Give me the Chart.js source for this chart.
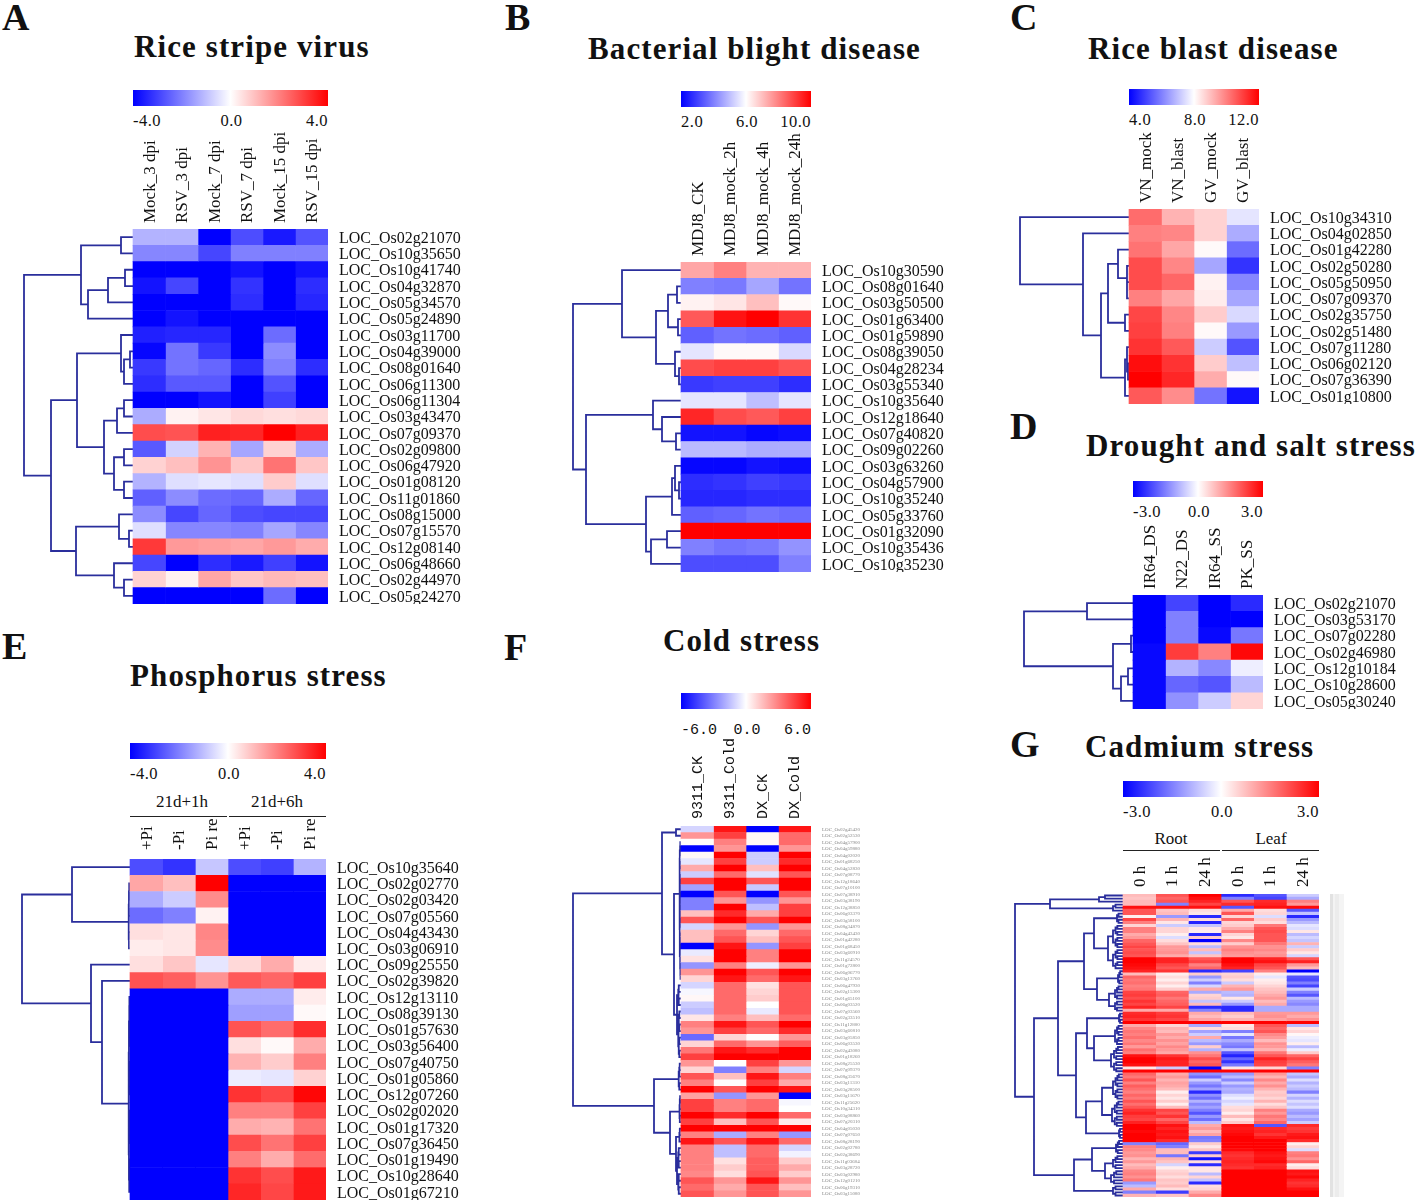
<!DOCTYPE html>
<html lang="en">
<head>
    <meta charset="UTF-8">
    <title>Rice stress heatmaps</title>
    <script src="https://cdn.jsdelivr.net/npm/chart.js"></script>
    <style>
        html, body { margin: 0; background: #fff; }
        #page { position: relative; width: 1418px; height: 1204px; overflow: hidden; font-family: "Liberation Serif", serif; color: #111; }
        #page canvas, #page div { position: absolute; }
        .title { font-weight: bold; font-size: 31px; letter-spacing: 1.1px; white-space: nowrap; line-height: 34px; }
        .letter { font-weight: bold; font-size: 38px; line-height: 40px; }
        .tick { font-size: 16.5px; letter-spacing: 0.5px; line-height: 18px; white-space: nowrap; }
        .group { font-size: 17px; line-height: 20px; white-space: nowrap; transform: translateX(-50%); }
    </style>
</head>
<body>
<div id="page"></div>
<script>
// panel A - rice stripe virus
const aCols = ['Mock_3 dpi', 'RSV_3 dpi', 'Mock_7 dpi', 'RSV_7 dpi', 'Mock_15 dpi', 'RSV_15 dpi'];
const aGenes = ['Os02g21070', 'Os10g35650', 'Os10g41740', 'Os04g32870', 'Os05g34570', 'Os05g24890', 'Os03g11700', 'Os04g39000', 'Os08g01640', 'Os06g11300', 'Os06g11304', 'Os03g43470', 'Os07g09370', 'Os02g09800', 'Os06g47920', 'Os01g08120', 'Os11g01860', 'Os08g15000', 'Os07g15570', 'Os12g08140', 'Os06g48660', 'Os02g44970', 'Os05g24270'];
const aValues = [
    [-1.2, -1.2, -4, -2.8, -3.6, -2.7],
    [-1.9, -1.9, -2.9, -2, -2, -2],
    [-4, -4, -4, -3.7, -4, -3.7],
    [-3.7, -2.9, -4, -3.2, -4, -3.3],
    [-4, -4, -4, -3.3, -4, -3.4],
    [-4, -3.7, -4, -4, -4, -4],
    [-3.5, -3.4, -3.4, -4, -2.3, -4],
    [-3.9, -2.2, -3.1, -4, -1.8, -4],
    [-3.1, -2.2, -2.4, -3.3, -2, -3.3],
    [-3.3, -2.6, -2.6, -4, -2.7, -4],
    [-4, -4, -3.7, -4, -3, -4],
    [-1.3, 0.2, 0.4, 0.6, 0.5, 0.6],
    [2.8, 2.7, 3.5, 3.4, 4, 3.5],
    [-2.6, -0.7, 1.2, -1.4, 0.7, -1.3],
    [0.7, 1, 1.7, 0.9, 2.2, 0.9],
    [-1.2, -0.5, -0.4, -0.5, 0.8, -0.5],
    [-2.5, -1.8, -2.3, -2.4, -1.3, -2.4],
    [-1.8, -2.9, -2.4, -2.8, -2.9, -2.9],
    [-0.5, -1.9, -1.9, -2, -1.4, -1.9],
    [3.1, 1.6, 1.5, 1.4, 1.6, 1.3],
    [-2.9, -4, -3.3, -3.6, -3, -3.7],
    [0.7, 0.2, 1.4, 0.9, 1.1, 1],
    [-4, -4, -4, -4, -2.3, -4]
];
const aTree = [109,
    [52, [12, 0, 1], [45, [25, [8, 2, 3], 4], 5]],
    [82,
        [56,
            [12, 6, [9, [3, 7, 8], 9]],
            [29, [16, [9, 10, 11], 12], [19, [9, 13, 14], [9, 15, 16]]]],
        [57,
            [14, 17, [4, 18, 19]],
            [19, 20, [9, 21, 22]]]]];

// panel B - bacterial blight
const bCols = ['MDJ8_CK', 'MDJ8_mock_2h', 'MDJ8_mock_4h', 'MDJ8_mock_24h'];
const bGenes = ['Os10g30590', 'Os08g01640', 'Os03g50500', 'Os01g63400', 'Os01g59890', 'Os08g39050', 'Os04g28234', 'Os03g55340', 'Os10g35640', 'Os12g18640', 'Os07g40820', 'Os09g02260', 'Os03g63260', 'Os04g57900', 'Os10g35240', 'Os05g33760', 'Os01g32090', 'Os10g35436', 'Os10g35230'];
const bValues = [
    [7.4, 8, 7.2, 7.2],
    [4, 3.9, 4.6, 3.8],
    [6.2, 6.4, 7, 6.1],
    [8.6, 9.7, 10, 9.2],
    [3.5, 3.8, 3.7, 3.5],
    [5.6, 6.1, 6.1, 5.4],
    [8.8, 9, 9, 8.7],
    [2.9, 3, 3, 2.7],
    [5.6, 5.6, 5, 5.6],
    [9.4, 8.8, 8.6, 9],
    [2.3, 2.3, 2.1, 2.2],
    [4.9, 4.9, 4.7, 4.7],
    [2.1, 2.1, 2.3, 2.2],
    [2.7, 2.8, 3, 2.9],
    [2.6, 2.6, 2.7, 2.7],
    [3.5, 3.6, 3.8, 3.7],
    [10, 10, 10, 10],
    [4, 3.8, 3.9, 4.3],
    [3.2, 3.2, 3.2, 4]
];
const bTree = [108,
    [59, 0, [25, [13, [4, 1, 2], [3, 3, 4]], [6, 5, [2, 6, 7]]]],
    [95,
        [28, 8, [19, 9, [5, 10, 11]]],
        [35, [9, [6, 12, [2, 13, 14]], 15], [30, [14, 16, 17], 18]]]];

// panel C - rice blast
const cCols = ['VN_mock', 'VN_blast', 'GV_mock', 'GV_blast'];
const cGenes = ['Os10g34310', 'Os04g02850', 'Os01g42280', 'Os02g50280', 'Os05g50950', 'Os07g09370', 'Os02g35750', 'Os02g51480', 'Os07g11280', 'Os06g02120', 'Os07g36390', 'Os01g10800'];
const cValues = [
    [10.3, 9.2, 8.7, 7.6],
    [10, 9.9, 8.7, 6.7],
    [10.2, 9.4, 8.1, 5.7],
    [10.8, 9.9, 6.6, 4.8],
    [10.8, 10.4, 8.2, 6.1],
    [10, 9.4, 8.3, 6.6],
    [10.9, 9.9, 8.8, 7.4],
    [11, 10, 8.1, 6.4],
    [11.2, 10.6, 7.2, 5.3],
    [11.8, 11.2, 8.8, 7],
    [12, 11.4, 9.3, 8.1],
    [10.6, 9.8, 5.8, 4.3]
];
const cTree = [109, 0,
    [46, 1,
        [28,
            [21, [11, 2, [2, 3, [2, 4, 5]]], [4, 6, 7]],
            [4, [2, 8, [1, 9, 10]], 11]]]];

// panel D - drought and salt
const dCols = ['IR64_DS', 'N22_DS', 'IR64_SS', 'PK_SS'];
const dGenes = ['Os02g21070', 'Os03g53170', 'Os07g02280', 'Os02g46980', 'Os12g10184', 'Os10g28600', 'Os05g30240'];
const dValues = [
    [-3, -2.2, -3, -2.5],
    [-3, -1.5, -3, -3],
    [-3, -1.5, -2.9, -1.6],
    [-2.9, 2.3, 1.5, 2.9],
    [-2.9, -0.9, -1.4, -0.2],
    [-2.9, -1.8, -2, -0.8],
    [-2.9, -1.3, -0.6, 0.5]
];
const dTree = [109, [46, 0, 1], [20, [2, 2, 3], [12, [5, 4, 5], 6]]];

// panel E - phosphorus
const eCols = ['+Pi', '-Pi', 'Pi re', '+Pi', '-Pi', 'Pi re'];
const eGenes = ['Os10g35640', 'Os02g02770', 'Os02g03420', 'Os07g05560', 'Os04g43430', 'Os03g06910', 'Os09g25550', 'Os02g39820', 'Os12g13110', 'Os08g39130', 'Os01g57630', 'Os03g56400', 'Os07g40750', 'Os01g05860', 'Os12g07260', 'Os02g02020', 'Os01g17320', 'Os07g36450', 'Os01g19490', 'Os10g28640', 'Os01g67210'];
const eValues = [
    [-2.8, -3.2, -0.9, -2.8, -3, -1.2],
    [1.4, 1, 4, -4, -4, -4],
    [-1.3, -0.8, 1.8, -4, -4, -4],
    [-2.3, -2, 0.2, -4, -4, -4],
    [0.5, 0.4, 1.9, -4, -4, -4],
    [0.3, 0.4, 1.8, -4, -4, -4],
    [0.5, 0.9, -0.4, 0.6, 1.3, 0.3],
    [2.7, 2.5, 1.7, 2.6, 2.4, 3],
    [-4, -4, -4, -1.3, -1.3, 0.3],
    [-4, -4, -4, -1.5, -1.5, 0.1],
    [-4, -4, -4, 2.7, 2.3, 3.3],
    [-4, -4, -4, 0.5, 0.1, 1.3],
    [-4, -4, -4, 1.2, 0.8, 2],
    [-4, -4, -4, -0.3, -0.4, 0.7],
    [-4, -4, -4, 3.2, 2.9, 3.9],
    [-4, -4, -4, 2, 2, 3],
    [-4, -4, -4, 1.3, 1.2, 2.2],
    [-4, -4, -4, 2.8, 2.2, 3],
    [-4, -4, -4, 2, 1.3, 2.3],
    [-4, -4, -4, 3.2, 2.8, 3.6],
    [-4, -4, -4, 3.4, 2.9, 3.6]
];
const eTree = [108,
    [58, 0, comb(1.4, 1, 5)],
    [39, 6, [28, 7, comb(1.4, 8, 20)]]];

// panel F - cold
const fCols = ['9311_CK', '9311_Cold', 'DX_CK', 'DX_Cold'];
const fGenes = ['Os02g45420', 'Os02g52530', 'Os04g57900', 'Os04g59880', 'Os04g02020', 'Os01g68250', 'Os04g52830', 'Os07g08770', 'Os12g18640', 'Os07g10100', 'Os07g38910', 'Os03g38190', 'Os12g38850', 'Os06g03370', 'Os03g58100', 'Os08g34870', 'Os04g43430', 'Os01g42280', 'Os01g68450', 'Os03g60910', 'Os11g24570', 'Os01g72800', 'Os06g06770', 'Os03g13760', 'Os06g47930', 'Os02g15300', 'Os01g65100', 'Os06g03520', 'Os07g03560', 'Os02g33510', 'Os11g12800', 'Os03g60810', 'Os03g05850', 'Os06g03530', 'Os02g43080', 'Os01g18260', 'Os08g25530', 'Os07g09370', 'Os08g35670', 'Os03g11310', 'Os03g28500', 'Os03g11670', 'Os11g25620', 'Os10g34310', 'Os03g08860', 'Os07g20310', 'Os04g05030', 'Os07g07650', 'Os08g28190', 'Os02g02780', 'Os02g38690', 'Os11g03604', 'Os03g28720', 'Os03g02980', 'Os12g01210', 'Os06g19310', 'Os03g15080'];
const fValues = [
    [-1, 5.5, -6, 5.5],
    [2.5, 4.5, 0.2, 3.5],
    [0.1, 3, 0.2, 3.5],
    [-6, 2.5, -6, 2.5],
    [0.2, 6, -1.2, 6],
    [-0.6, 4.5, -1.2, 5],
    [2, 6, 1.5, 6],
    [-1.2, 3.5, -0.7, 4],
    [4.5, 6, 4, 6],
    [-2.2, 6, -1.3, 6],
    [-6, 4, -6, 4],
    [-3, 2.5, -2.5, 2.5],
    [-3, 6, -1.5, 4.5],
    [1.5, 5, 2, 4.5],
    [4, 6, 4, 6],
    [-1, 2.5, -2.5, 2.5],
    [1.5, 3.5, 1, 3.5],
    [1.5, 4, 1.5, 4],
    [-6, 5.5, -2.5, 4.5],
    [-0.5, 6, 3, 6],
    [0.7, 6, 3, 6],
    [-2.5, 3, -0.4, 2.5],
    [2.5, 6, 4, 6],
    [1, 5.5, 3.5, 5.5],
    [-1, 3.5, 0.7, 4],
    [-0.2, 3.5, 1, 4],
    [0.2, 3.5, 1.2, 4],
    [-1.2, 3.5, 0, 4],
    [-1.5, 3.5, -0.5, 4],
    [0.6, 3, 1.5, 3.5],
    [3, 5.5, 4, 6],
    [2.5, 4.5, 3.5, 5],
    [-3.5, 1, 0, 2.5],
    [1, 3.5, 2.5, 3.8],
    [3.2, 5.5, 5, 6],
    [4.5, 6, 6, 6],
    [2.5, 0, 4.5, 2.5],
    [1, -3, 3, -1],
    [4, 1.5, 5.5, 3],
    [3, 0.1, 4.5, 2],
    [6, 4, 6, 5.5],
    [2.2, -2.5, 2.5, -6],
    [4.5, 3, 3.5, -0.2],
    [4.5, 3, 3.5, 0],
    [6, 5, 6, 3.5],
    [4.5, 1.5, 4, 0.5],
    [6, 6, 6, 6],
    [3, -2, 3, -2.5],
    [5.5, 4, 5.5, 3.5],
    [3, -1.5, 3.5, -1],
    [3, -1.5, 3.5, -0.3],
    [3, 0.7, 3.8, 1.2],
    [3, 1.2, 3.8, 2],
    [2.8, 0.8, 4, 1.2],
    [4, 2.5, 5.5, 2.5],
    [3.5, 2, 4, 1.5],
    [4, 2.5, 4, 2.5]
];
const fTree = [108,
    [19, [5, 0, 1],
        [7, [1.4, comb(1.2, 2, 6), comb(1.2, 7, 23)],
            [4, comb(3, 24, 27), comb(3, 28, 35)]]],
    [27, comb(2.3, 36, 40),
        [11, comb(1.6, 41, 45),
            [5, comb(1.6, 46, 48), comb(4, 49, 56)]]]];

// panel G - cadmium
const gCols = ['0 h', '1 h', '24 h', '0 h', '1 h', '24 h'];
const gGenes = Array.from({ length: 100 }, (_, i) => String(i + 1));
const gValues = [
    [0.8, 2, 3, -2.5, -2, -0.6], [0.7, 1.8, 2.8, -1.5, -2.2, -1], [0.8, 2, 2.6, 2, 2.5, 1.5], [0.8, -1.5, 2.2, 2.5, 2.6, 1.2],
    [2.8, 2.8, 2.8, -2, 2.8, 2.9], [2, 0.7, 0.4, 1, 0.4, -2], [2, 0.8, 0.3, 2, 0.5, -0.7], [0.2, -1.2, -2.5, 0.5, -0.4, -2.5],
    [2.2, 0.9, 0.4, 1.8, 0.6, -1.2], [1.5, 0.3, -2.6, 0.5, 0.4, -0.8], [0.5, -0.6, -0.7, 0.6, 1.6, -0.3], [1.5, 0.5, 0.3, 1, 2, -0.4],
    [1.5, 0.5, 0.2, 1.5, 2.1, 0.3], [1, 0.2, -2.5, 0.5, 2, -0.8], [1.2, -0.4, 0.6, 0.3, 2, -0.5], [1.8, 0.4, -3, 1.4, 2, -0.7],
    [2, 0.7, 0.4, 0.6, 1.6, 0.9], [2.2, 1.2, -0.8, 1.3, 1.3, -0.6], [2, 1.2, 0.8, 1.5, 1.4, 0.6], [2.1, 1.3, -0.7, 1.3, 1.2, 0.3],
    [2, 1, 0.7, 1.2, 1.3, -0.5], [3, 2.6, 2, 3, 2.6, 2], [3, 2.6, 2.2, 3, 2.8, 2.6], [2.9, 2.2, 1.5, 2.8, 2.2, 1.2],
    [2.8, 2, 1.8, 2.6, 2, 0.8], [2.6, 2.4, -2.5, -2.2, 1.5, -3], [0.8, 0.2, 0.6, 0.5, 0.2, -0.3], [1.8, 0.4, -1.2, 0.6, -0.3, -2],
    [1.6, 0.2, -0.6, 0.4, 0.2, -2.1], [1.7, 0.5, -1.5, -0.6, 0.3, -1.5], [1.5, 0.2, -0.5, 0.9, 0.5, -2.2], [1.6, 0.6, 1, 1.2, 0.7, -0.6],
    [2.2, 1.8, -1, -0.8, 0.8, -1.5], [2.3, 1.9, 0.5, -0.9, 1, -2], [2.1, 1.6, 0.6, 0.3, 1.2, -0.8], [2.4, 1.8, -0.7, -0.6, 0.8, -1.2],
    [2.2, 1.9, 0.8, -1.2, 1, -1.4], [2.6, 2.2, -2.5, -2.5, -1, -1], [1, 1, -1.5, -2.5, -1, -1], [2.5, 2.3, 1, 0.8, 1.2, 1.2],
    [2.6, 2.4, 0.8, 0.6, 1.3, 1], [2.4, 2.2, 1.1, 0.9, 1.1, 1.3], [3, 3, 3, 3, 3, 3], [1, 0.5, -1, 0.3, 2, -0.8],
    [1.4, 0.9, 0.4, 0.4, 1.8, 0.3], [1.6, 0.8, -1.1, -1.5, 2, 0.5], [1.5, 1.2, -0.6, -0.3, 1.4, 0.1], [1.7, 1, 1, -1.6, 1.2, -0.2],
    [1.4, 1.3, -0.8, -1, 0.8, -0.3], [1.6, 1.1, -1.2, -1.4, 1.3, 0.2], [1.2, 1.4, 0.6, -1.6, 1.2, -0.8], [1.7, 1.2, -0.9, -0.7, 0.9, -0.2],
    [1.5, 1, 1.3, -2, 1.6, 0.6], [2.8, 2.4, 1.6, -2.6, 2, 1.8], [3, 2.7, 2.1, -1.8, 2.6, 2.2], [3, 2.6, 1.8, -2.4, 2.3, 1.9],
    [2.8, 2.6, 2, -1.6, 2.2, 1.6], [0.3, -0.6, -3, 0.3, 0.5, -1.5], [3, 3, 3, 3, 3, 3], [1.8, 1, -1.3, -1.2, 1.2, -0.7],
    [1.6, 1.2, -1.7, -0.8, 0.9, -1], [2, 0.9, -0.6, -1.4, 1.4, -0.4], [1.5, 1.1, -1.2, -0.6, 1, -0.9], [1.9, 1, -1.6, -1.2, 1.3, -0.6],
    [1.7, 0.8, -1.1, -0.9, 0.9, -0.8], [1.5, 0.2, -2.5, -1, 0.6, -1.5], [1.8, 0.5, -1.3, -0.4, 0.7, -0.5], [1.6, 0.3, -1.7, -0.2, 0.5, -0.9],
    [2, 0.6, -0.9, -0.5, 0.9, -0.4], [1.7, 0.2, -1.4, -0.3, 0.4, -0.7], [2, 0.8, -1.1, 0.4, 0.7, -0.4], [2.4, 2.2, -1.5, 0.5, 1.5, -1],
    [2.6, 2, -2, 0.2, 1.2, -1.2], [2.3, 2.4, -1.2, 0.8, 1.6, -0.8], [2.2, 1.8, -1.7, 0.3, 1.4, -1.1], [2.6, 2.2, -0.8, 0.6, 1.8, -0.6],
    [3, 2.8, 1, 2.8, -2, 2.5], [3, 2.6, 1.2, 2.7, 2.5, 2.3], [2.9, 2.8, 0.8, 2.8, 2.6, 2.4], [3, 2.7, 1.1, 2.9, 2.4, 2.7],
    [3, 2.8, -1.6, 3, 2.7, 2.8], [3, 2.5, -1.5, 3, 3, 2.5], [-1.5, -1.8, 0.6, 3, 3, 0.2], [1.5, -1.5, 0.3, 3, 3, 0.5],
    [1.4, 0.8, 0.7, 2.9, 3, -0.4], [1.2, 0.8, -2.3, 2.5, 2.8, 1.5], [1.3, -1.6, 0.6, 2.4, 2.7, 1.6], [0.9, 0.9, -2.8, 2.5, 2.8, 1.3],
    [1.2, 0.7, 0.4, 2.6, 2.9, 1.8], [0.8, -0.5, -2.5, 2.5, 2.5, 0.2], [1, 0.2, 0.3, 2.4, 2.6, 0.4], [1.4, 0.5, 0.3, 3, 3, 2.8],
    [1.5, 0.6, -0.8, 3, 3, 2.7], [1.3, 0.4, 0.5, 3, 3, 2.9], [1.6, 0.7, -0.7, 3, 3, 2.6], [-1.2, 0.6, -2.5, 3, 3, 2.4],
    [-0.8, 0.8, 0.4, 3, 3, 2.5], [1, 0.4, 0.5, 3, 3, 2.8], [-1.5, -2.3, 1, 3, 3, 3], [0.9, 0.7, 1.4, 3, 3, 3]
];
const gTree = [108,
    [73, comb(24, 0, 2), comb(10, 3, 5)],
    [89,
        [65,
            [39,
                [29, comb(6, 6, 9), [15, comb(10, 10, 17), comb(10, 18, 24)]],
                [26, comb(5, 25, 29), [14, comb(8, 30, 34), comb(8, 35, 38)]]],
            [47,
                [36, comb(4, 39, 42), [29, comb(8, 43, 49), comb(12, 50, 58)]],
                [37, [21, comb(10, 59, 67), comb(11, 68, 76)], comb(4, 77, 80)]]],
        [49,
            [31, comb(7, 81, 85), [18, comb(10, 86, 90), comb(12, 91, 95)]],
            comb(10, 96, 99)]]];

// legend tick labels
const aLegend = ['-4.0', '0.0', '4.0'];
const bLegend = ['2.0', '6.0', '10.0'];
const cLegend = ['4.0', '8.0', '12.0'];
const dLegend = ['-3.0', '0.0', '3.0'];
const eLegend = ['-4.0', '0.0', '4.0'];
const fLegend = ['-6.0', '0.0', '6.0'];
const gLegend = ['-3.0', '0.0', '3.0'];

const page = document.getElementById('page');
const dendroRoom = 112;

// tight little sub-trees next to the heatmap, too small to read each merge
function comb(h, from, to) {
    if (from === to) return from;
    const mid = Math.floor((from + to) / 2);
    return [h, comb(h * 0.75, from, mid), comb(h * 0.75, mid + 1, to)];
}

function addDiv(cls, text, style) {
    const el = document.createElement('div');
    el.className = cls;
    el.textContent = text;
    Object.assign(el.style, style);
    page.appendChild(el);
    return el;
}

function cellColor(v, center, half) {
    const f = Math.max(-1, Math.min(1, (v - center) / half));
    const c = Math.round((1 - Math.abs(f)) * 255);
    return f >= 0 ? `rgb(255,${c},${c})` : `rgb(${c},${c},255)`;
}

function treeSegments(tree, unit) {
    const pts = [];
    function walk(node) {
        if (!Array.isArray(node)) return { h: 0, y: node };
        const a = walk(node[1]);
        const b = walk(node[2]);
        const h = node[0];
        pts.push({ x: -a.h * unit, y: a.y }, { x: -h * unit, y: a.y }, { x: -h * unit, y: b.y }, { x: -b.h * unit, y: b.y }, { x: null, y: null });
        return { h: h, y: (a.y + b.y) / 2 };
    }
    walk(tree);
    return pts;
}

function drawHeat(p) {
    const canvas = document.createElement('canvas');
    const w = dendroRoom + p.width + p.labelW;
    const h = p.axisH + p.height;
    canvas.width = w;
    canvas.height = h;
    canvas.style.left = (p.left - dendroRoom) + 'px';
    canvas.style.top = (p.top - p.axisH) + 'px';
    page.appendChild(canvas);

    const colW = p.width / p.cols.length;
    const colFont = p.colFont || 17;
    const datasets = p.cols.map((c, i) => ({
        type: 'bar',
        label: c,
        data: p.genes.map(() => [i, i + 1]),
        backgroundColor: p.values.map(r => cellColor(r[i], p.center, p.half)),
        xAxisID: 'x',
        yAxisID: 'y',
        grouped: false,
        barPercentage: 1,
        categoryPercentage: 1,
        borderWidth: 0
    }));
    datasets.push({
        type: 'line',
        label: 'dendrogram',
        data: treeSegments(p.tree, 1 / colW),
        xAxisID: 'x',
        yAxisID: 'yd',
        borderColor: '#2a2e9c',
        borderWidth: 1.8,
        borderJoinStyle: 'miter',
        pointRadius: 0,
        tension: 0,
        spanGaps: false,
        clip: false
    });

    new Chart(canvas, {
        data: { labels: p.genes, datasets: datasets },
        options: {
            indexAxis: 'y',
            responsive: false,
            animation: false,
            events: [],
            layout: { padding: 0 },
            plugins: { legend: { display: false }, tooltip: { enabled: false } },
            scales: {
                x: {
                    type: 'linear',
                    position: 'top',
                    min: -dendroRoom / colW,
                    max: p.cols.length,
                    grid: { display: false, drawTicks: false },
                    border: { display: false },
                    afterBuildTicks: s => { s.ticks = p.cols.map((c, i) => ({ value: i + 0.5 })); },
                    afterFit: s => { s.height = p.axisH; s.paddingLeft = 0; s.paddingRight = 0; },
                    ticks: {
                        autoSkip: false,
                        minRotation: 90,
                        maxRotation: 90,
                        padding: p.colPad || 6,
                        labelOffset: colFont * 1.25,
                        color: '#111',
                        font: { family: p.colFamily || 'Liberation Serif', size: colFont },
                        callback: (v, i) => p.cols[i]
                    }
                },
                y: {
                    type: 'category',
                    position: 'right',
                    offset: true,
                    display: p.labelFont > 0,
                    grid: { display: false, drawTicks: false },
                    border: { display: false },
                    afterFit: s => { s.width = p.labelW; s.paddingTop = 0; s.paddingBottom = 0; },
                    ticks: {
                        autoSkip: false,
                        padding: 11,
                        labelOffset: p.labelFont > 6 ? 1.5 : 0,
                        color: p.labelColor || '#111',
                        font: { family: 'Liberation Serif', size: p.labelFont },
                        callback: function (v, i) { return 'LOC_' + p.genes[i]; }
                    }
                },
                yd: {
                    type: 'linear',
                    axis: 'y',
                    display: false,
                    reverse: true,
                    min: -0.5,
                    max: p.genes.length - 0.5
                }
            }
        }
    });
}

function drawLegend(left, top, width, ticks, tickTop, family, size) {
    addDiv('', '', {
        left: left + 'px', top: top + 'px', width: width + 'px', height: '16px',
        background: 'linear-gradient(90deg,#0000ff,#ffffff 50%,#ff0000)'
    });
    const font = { top: tickTop + 'px' };
    if (family) { font.fontFamily = family; font.fontSize = size + 'px'; font.letterSpacing = '0'; }
    addDiv('tick', ticks[0], Object.assign({ left: left + 'px' }, font));
    addDiv('tick', ticks[1], Object.assign({ left: (left + width / 2 + 1) + 'px', transform: 'translateX(-50%)' }, font));
    addDiv('tick', ticks[2], Object.assign({ right: (1418 - left - width) + 'px' }, font));
}

function drawGroup(text, center, lineLeft, lineWidth, textTop, lineTop) {
    addDiv('group', text, { left: center + 'px', top: textTop + 'px' });
    addDiv('', '', { left: lineLeft + 'px', top: lineTop + 'px', width: lineWidth + 'px', height: '1px', background: '#222' });
}

// titles and panel letters
[['Rice stripe virus', 134, 30], ['Bacterial blight disease', 588, 32], ['Rice blast disease', 1088, 32],
 ['Drought and salt stress', 1086, 429], ['Phosphorus stress', 130, 659], ['Cold stress', 663, 624], ['Cadmium stress', 1085, 730]]
    .forEach(t => addDiv('title', t[0], { left: t[1] + 'px', top: t[2] + 'px' }));
[['A', 2, -3], ['B', 505, -3], ['C', 1010, -3], ['D', 1010, 406], ['E', 2, 626], ['F', 504, 627], ['G', 1010, 724]]
    .forEach(t => addDiv('letter', t[0], { left: t[1] + 'px', top: t[2] + 'px' }));

// colour keys
drawLegend(133, 90, 195, aLegend, 112);
drawLegend(681, 91, 130, bLegend, 113);
drawLegend(1129, 89, 130, cLegend, 111);
drawLegend(1133, 481, 130, dLegend, 503);
drawLegend(130, 743, 196, eLegend, 765);
drawLegend(681, 693, 130, fLegend, 722, 'Liberation Mono', 15);
drawLegend(1123, 781, 196, gLegend, 803);

// column group headers
drawGroup('21d+1h', 182, 130, 97, 792, 816);
drawGroup('21d+6h', 277, 229, 97, 792, 816);
drawGroup('Root', 1171, 1123, 97, 829, 850);
drawGroup('Leaf', 1271, 1222, 97, 829, 850);

// heatmaps
drawHeat({ left: 133, top: 229, width: 195, height: 375, cols: aCols, genes: aGenes, values: aValues, tree: aTree, center: 0, half: 4, axisH: 110, labelW: 140, labelFont: 16 });
drawHeat({ left: 681, top: 262, width: 130, height: 310, cols: bCols, genes: bGenes, values: bValues, tree: bTree, center: 6, half: 4, axisH: 130, labelW: 140, labelFont: 16 });
drawHeat({ left: 1129, top: 209, width: 130, height: 195, cols: cCols, genes: cGenes, values: cValues, tree: cTree, center: 8, half: 4, axisH: 90, labelW: 140, labelFont: 16 });
drawHeat({ left: 1133, top: 595, width: 130, height: 114, cols: dCols, genes: dGenes, values: dValues, tree: dTree, center: 0, half: 3, axisH: 80, labelW: 140, labelFont: 16 });
drawHeat({ left: 130, top: 859, width: 196, height: 341, cols: eCols, genes: eGenes, values: eValues, tree: eTree, center: 0, half: 4, axisH: 45, labelW: 140, labelFont: 16, colPad: 9 });
drawHeat({ left: 681, top: 826, width: 130, height: 371, cols: fCols, genes: fGenes, values: fValues, tree: fTree, center: 0, half: 6, axisH: 95, labelW: 60, labelFont: 5, labelColor: '#888', colFamily: 'Liberation Mono', colFont: 15, colPad: 7 });
drawHeat({ left: 1123, top: 894, width: 196, height: 303, cols: gCols, genes: gGenes, values: gValues, tree: gTree, center: 0, half: 3, axisH: 40, labelW: 0, labelFont: 0, colPad: 7 });

// gene names of panel G are unreadable in the figure, only a faint band is left
addDiv('', '', {
    left: '1330px', top: '894px', width: '14px', height: '303px',
    background: 'linear-gradient(90deg,#e2e2e2 0 3px,#f3f3f3 3px 5px,#ececec 5px 9px,#f4f4f4 9px 14px)'
});
</script>
</body>
</html>
